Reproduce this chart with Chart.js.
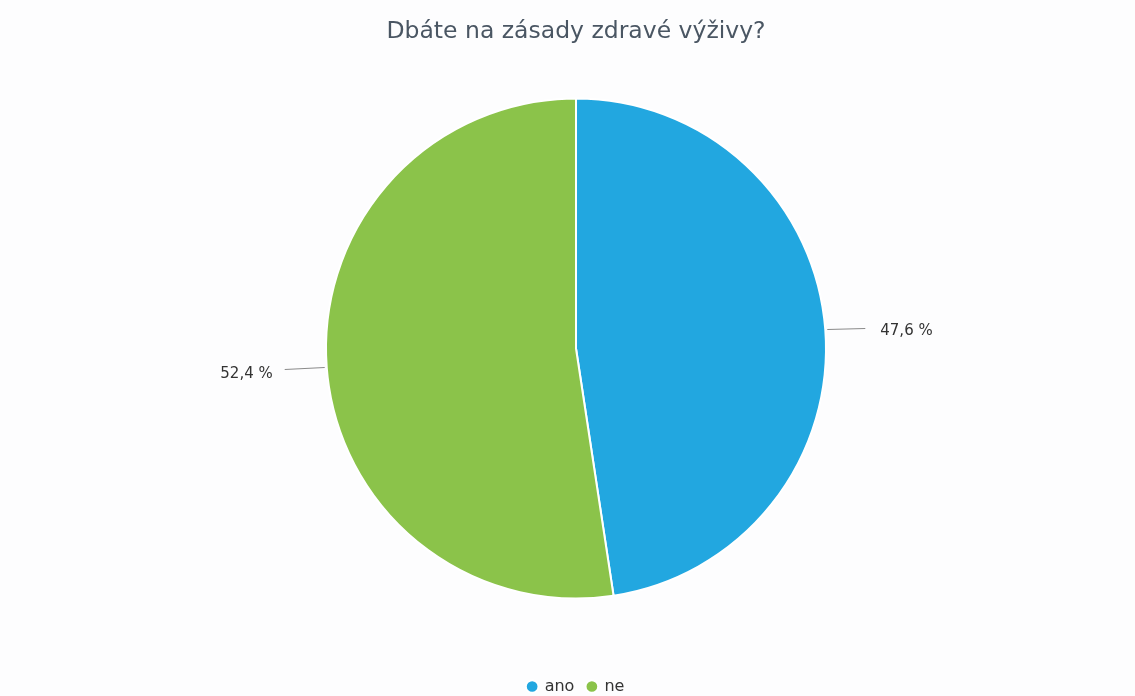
<!DOCTYPE html>
<html>
<head>
<meta charset="utf-8">
<script src="https://cdn.jsdelivr.net/npm/chart.js@4/dist/chart.umd.min.js"></script>
<style>
  html, body { margin: 0; padding: 0; background: #fdfdfe; }
  #wrap { width: 1135px; height: 696px; position: relative; }
</style>
</head>
<body>
<div id="wrap"><canvas id="c" width="1135" height="696"></canvas></div>
<script>
const titleText = 'Dbáte na zásady zdravé výživy?';
const categories = ['ano', 'ne'];
const percentages = [47.6, 52.4];
const sliceColors = ['#22a7e0', '#8bc34a'];

function fmt(v) { return v.toFixed(1).replace('.', ',') + ' %'; }

const outLabels = {
  id: 'outLabels',
  afterDatasetsDraw(chart) {
    const ctx = chart.ctx;
    const meta = chart.getDatasetMeta(0);
    ctx.save();
    ctx.font = '15px "DejaVu Sans", sans-serif';
    ctx.fillStyle = '#333333';
    ctx.textBaseline = 'middle';
    meta.data.forEach((arc, i) => {
      const p = arc.getProps(['x', 'y', 'startAngle', 'endAngle', 'outerRadius'], true);
      const mid = (p.startAngle + p.endAngle) / 2;
      const cos = Math.cos(mid), sin = Math.sin(mid);
      const right = cos >= 0;
      const x1 = p.x + cos * (p.outerRadius + 2);
      const y1 = p.y + sin * (p.outerRadius + 2);
      const x2 = x1 + (right ? 38 : -40);
      const y2 = y1 + (right ? -1 : 2);
      ctx.strokeStyle = '#8a8a8a';
      ctx.lineWidth = 1.2;
      ctx.beginPath();
      ctx.moveTo(x1, y1);
      ctx.lineTo(x2, y2);
      ctx.stroke();
      ctx.textAlign = right ? 'left' : 'right';
      ctx.fillText(fmt(percentages[i]), x2 + (right ? 15 : -12), y2 + (right ? 3 : 5));
    });
    ctx.restore();
  }
};

new Chart(document.getElementById('c'), {
  type: 'pie',
  data: {
    labels: categories,
    datasets: [{
      data: percentages,
      backgroundColor: sliceColors,
      borderColor: '#ffffff',
      borderWidth: 2,
      hoverOffset: 0,
      radius: 250
    }]
  },
  options: {
    responsive: false,
    animation: false,
    layout: { padding: { left: 17, right: 0, top: 0, bottom: -8.5 } },
    plugins: {
      title: {
        display: true,
        text: titleText,
        color: '#4a5663',
        font: { family: '"DejaVu Sans", sans-serif', size: 23.5, weight: 'normal' },
        padding: { top: 18, bottom: 49.8 }
      },
      legend: {
        display: true,
        position: 'bottom',
        title: { display: true, text: '', padding: { top: 52.5, bottom: 0 }, font: { size: 10 } },
        labels: {
          usePointStyle: true,
          pointStyle: 'circle',
          boxWidth: 9,
          boxHeight: 9,
          padding: 13,
          color: '#333333',
          font: { family: '"DejaVu Sans", sans-serif', size: 16 }
        }
      },
      tooltip: { enabled: false }
    }
  },
  plugins: [outLabels]
});
</script>
</body>
</html>
